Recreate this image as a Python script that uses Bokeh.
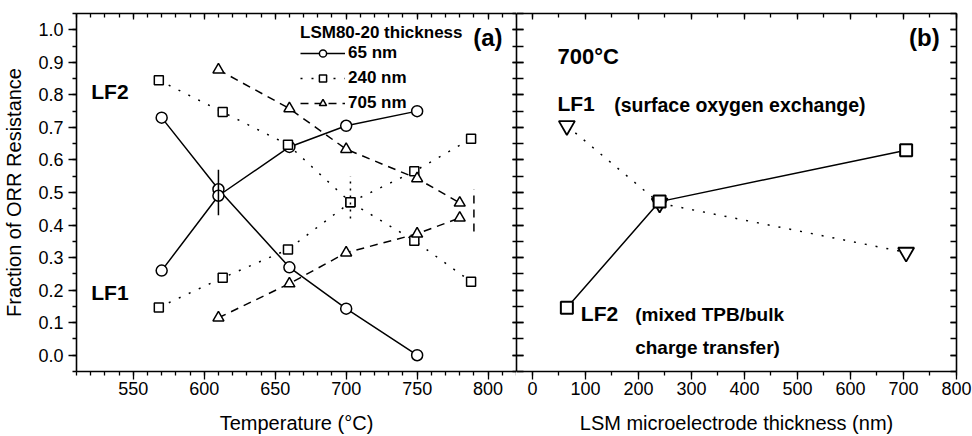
from bokeh.plotting import figure
from bokeh.layouts import row
from bokeh.models import (LinearAxis, SingleIntervalTicker, Legend, LegendItem,
                          Label, Range1d, PrintfTickFormatter)
from bokeh.embed import file_html
from bokeh.resources import INLINE

# ---------------- data: panel (a) ----------------
temp_65 = [570, 610, 660, 700, 750]
lf2_65 = [0.73, 0.51, 0.27, 0.143, 0.0]
lf1_65 = [0.26, 0.49, 0.64, 0.705, 0.75]

temp_240 = [568, 613, 659, 703, 748, 788]
lf2_240 = [0.845, 0.747, 0.647, 0.47, 0.352, 0.226]
lf1_240 = [0.147, 0.238, 0.325, 0.47, 0.565, 0.665]

temp_705 = [610, 660, 700, 750, 780]
lf2_705 = [0.877, 0.758, 0.633, 0.543, 0.468]
lf1_705 = [0.115, 0.22, 0.315, 0.373, 0.422]

err_x_65, err_lo_65, err_hi_65 = [610], [0.43], [0.57]
err_x_240, err_lo_240, err_hi_240 = [703], [0.42], [0.55]
err_x_705, err_lo_705, err_hi_705 = [790], [0.38], [0.51]

legend_labels = ["65 nm", "240 nm", "705 nm"]

# ---------------- data: panel (b) ----------------
thickness = [65, 240, 705]
lf1_700 = [0.705, 0.467, 0.316]
lf2_700 = [0.146, 0.472, 0.630]

FONT = "Liberation Sans"


def style_axis(ax, major_in, major_out, minor_in, minor_out, labels=True):
    ax.axis_line_color = "black"
    ax.axis_line_width = 1.6
    ax.major_tick_line_color = "black"
    ax.minor_tick_line_color = "black"
    ax.major_tick_line_width = 1.3
    ax.minor_tick_line_width = 1.3
    ax.major_tick_in = major_in
    ax.major_tick_out = major_out
    ax.minor_tick_in = minor_in
    ax.minor_tick_out = minor_out
    if labels:
        ax.major_label_text_font = FONT
        ax.major_label_text_font_size = "18px"
        ax.major_label_text_color = "black"
    else:
        ax.major_label_text_font_size = "0px"
        ax.major_label_text_color = None
        ax.major_label_standoff = 0
    ax.axis_label_text_font = FONT
    ax.axis_label_text_font_size = "20px"
    ax.axis_label_text_font_style = "normal"
    ax.axis_label_text_color = "black"


# ---------------- panel (a) ----------------
pa = figure(width=516, height=436, x_range=Range1d(510, 820), y_range=Range1d(-0.05, 1.05),
            output_backend="svg", toolbar_location=None, x_axis_type=None, y_axis_type=None,
            min_border_left=76, min_border_right=0, min_border_top=13, min_border_bottom=64,
            outline_line_color=None)

xa_b = LinearAxis(ticker=SingleIntervalTicker(interval=50, num_minor_ticks=5),
                  axis_label="Temperature (°C)")
style_axis(xa_b, 0, 8, 0, 4)
xa_b.major_label_standoff = 2
xa_b.axis_label_standoff = 14
pa.add_layout(xa_b, "below")

xa_t = LinearAxis(ticker=SingleIntervalTicker(interval=50, num_minor_ticks=5))
style_axis(xa_t, 6, 0, 4, 0, labels=False)
pa.add_layout(xa_t, "above")

ya_l = LinearAxis(ticker=SingleIntervalTicker(interval=0.1, num_minor_ticks=2),
                  axis_label="Fraction of ORR Resistance",
                  formatter=PrintfTickFormatter(format="%.1f"))
style_axis(ya_l, 0, 8, 0, 4)
ya_l.major_label_standoff = 5
ya_l.axis_label_standoff = 10
pa.add_layout(ya_l, "left")

ya_r = LinearAxis(ticker=SingleIntervalTicker(interval=0.1, num_minor_ticks=2))
style_axis(ya_r, 4, 0, 4, 0, labels=False)
pa.add_layout(ya_r, "right")

LW = 1.5
series = [
    (temp_65, lf2_65, lf1_65, "solid", "circle", 11),
    (temp_240, lf2_240, lf1_240, "2 9", "square", 9),
    (temp_705, lf2_705, lf1_705, "8 6", "triangle", 11),
]
legend_items = []
for (t, up, lo, dash, mk, sz), lab in zip(series, legend_labels):
    l1 = pa.line(t, up, line_color="black", line_width=LW, line_dash=dash)
    pa.line(t, lo, line_color="black", line_width=LW, line_dash=dash)
    s1 = pa.scatter(t, up, marker=mk, size=sz, line_color="black", line_width=LW,
                    fill_color="white")
    pa.scatter(t, lo, marker=mk, size=sz, line_color="black", line_width=LW,
               fill_color="white")
    legend_items.append(LegendItem(label=lab, renderers=[l1, s1]))

for ex, elo, ehi, dash in [(err_x_65, err_lo_65, err_hi_65, "solid"),
                           (err_x_240, err_lo_240, err_hi_240, "2 5"),
                           (err_x_705, err_lo_705, err_hi_705, "8 6")]:
    pa.segment(x0=ex, y0=elo, x1=ex, y1=ehi, line_color="black", line_width=LW,
               line_dash=dash)

legend = Legend(items=legend_items, title="LSM80-20 thickness", location=(224, 258),
                border_line_color=None, background_fill_alpha=0, padding=0, margin=0,
                glyph_width=45, glyph_height=18, label_height=18, spacing=5,
                label_standoff=3, title_standoff=0,
                label_text_font=FONT, label_text_font_style="bold",
                label_text_font_size="17px", label_text_color="black",
                title_text_font=FONT, title_text_font_style="bold",
                title_text_font_size="17px", title_text_color="black")
pa.add_layout(legend)


def add_label(p, x, y, text, size, align="left"):
    p.add_layout(Label(x=x, y=y, text=text, text_font=FONT, text_font_style="bold",
                       text_font_size=size, text_align=align, text_baseline="middle",
                       text_color="black"))


add_label(pa, 520.4, 0.81, "LF2", "21px")
add_label(pa, 520.4, 0.194, "LF1", "21px")
add_label(pa, 810.2, 0.975, "(a)", "24px", align="right")

# ---------------- panel (b) ----------------
pb = figure(width=456, height=436, x_range=Range1d(-30, 800), y_range=Range1d(-0.05, 1.05),
            output_backend="svg", toolbar_location=None, x_axis_type=None, y_axis_type=None,
            min_border_left=0, min_border_right=16, min_border_top=13, min_border_bottom=64,
            outline_line_color=None)

xb_b = LinearAxis(ticker=SingleIntervalTicker(interval=100, num_minor_ticks=2),
                  axis_label="LSM microelectrode thickness (nm)")
style_axis(xb_b, 0, 8, 0, 4)
xb_b.major_label_standoff = 2
xb_b.axis_label_standoff = 14
pb.add_layout(xb_b, "below")

xb_t = LinearAxis(ticker=SingleIntervalTicker(interval=100, num_minor_ticks=2))
style_axis(xb_t, 6, 0, 4, 0, labels=False)
pb.add_layout(xb_t, "above")

yb_l = LinearAxis(ticker=SingleIntervalTicker(interval=0.1, num_minor_ticks=2))
style_axis(yb_l, 7, 0, 7, 0, labels=False)
pb.add_layout(yb_l, "left")

yb_r = LinearAxis(ticker=SingleIntervalTicker(interval=0.1, num_minor_ticks=2))
style_axis(yb_r, 6, 0, 6, 0, labels=False)
pb.add_layout(yb_r, "right")

pb.line(thickness, lf1_700, line_color="black", line_width=LW, line_dash="2 9")
pb.line(thickness, lf2_700, line_color="black", line_width=LW)
pb.scatter(thickness, lf1_700, marker="inverted_triangle", size=16, line_color="black",
           line_width=1.8, fill_color="white")
pb.scatter(thickness, lf2_700, marker="square", size=12, line_color="black",
           line_width=2, fill_color="white")

add_label(pb, 768.3, 0.975, "(b)", "24px", align="right")
add_label(pb, 47.2, 0.917, "700°C", "22px")
add_label(pb, 47.2, 0.775, "LF1", "21px")
add_label(pb, 154.2, 0.77, "(surface oxygen exchange)", "19.5px")
add_label(pb, 91.3, 0.128, "LF2", "21px")
add_label(pb, 193.9, 0.125, "(mixed TPB/bulk", "19px")
add_label(pb, 193.9, 0.024, "charge transfer)", "19px")

layout = row(pa, pb)
open("out.html", "w").write(file_html(layout, INLINE))
